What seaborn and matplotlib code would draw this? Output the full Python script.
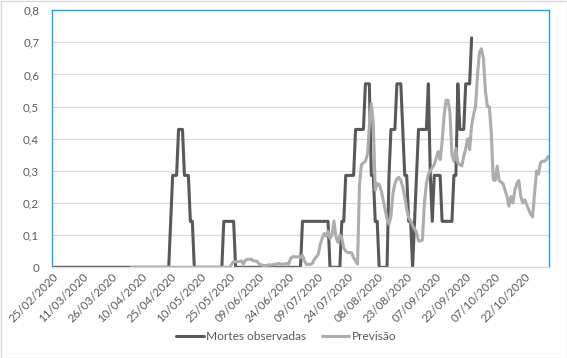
import matplotlib
matplotlib.use('Agg')
import matplotlib.pyplot as plt
import matplotlib.dates as mdates
import matplotlib.transforms as mtransforms
from matplotlib.patches import Rectangle
import pandas as pd
import seaborn as sns

# ---------------- data ----------------
series_names = ['Mortes observadas', 'Previsão']
obs_start = '2020-02-25'
prev_start = '2020-04-05'

# daily values (7-day average of deaths), from 25/02/2020
observed = [
    0, 0, 0, 0, 0, 0, 0, 0, 0, 0, 0, 0, 0, 0, 0, 0, 0, 0, 0, 0,
    0, 0, 0, 0, 0, 0, 0, 0, 0, 0, 0, 0, 0, 0, 0, 0, 0, 0, 0, 0,
    0, 0, 0, 0, 0, 0, 0, 0, 0, 0, 0, 0, 0, 0, 0, 0, 0, 0, 0, 0,
    0.143, 0.286, 0.286, 0.286, 0.429, 0.429, 0.429, 0.286, 0.286, 0.286,
    0.143, 0.143,
    0, 0, 0, 0, 0, 0, 0, 0, 0, 0, 0, 0, 0, 0, 0,
    0.143, 0.143, 0.143, 0.143, 0.143, 0.143,
    0, 0, 0, 0, 0, 0, 0, 0, 0, 0, 0, 0, 0, 0, 0, 0, 0,
    0, 0, 0, 0, 0, 0, 0, 0, 0, 0, 0, 0, 0, 0, 0, 0, 0,
    0.143, 0.143, 0.143, 0.143, 0.143, 0.143, 0.143, 0.143, 0.143, 0.143,
    0.143, 0.143, 0.143, 0.143,
    0, 0, 0, 0, 0, 0,
    0.143, 0.143, 0.286, 0.286, 0.286, 0.286, 0.286,
    0.429, 0.429, 0.429, 0.429, 0.429, 0.571, 0.571, 0.571,
    0.286, 0.286, 0.143, 0.143,
    0, 0, 0, 0, 0,
    0.286, 0.429, 0.429, 0.429, 0.571, 0.571, 0.571, 0.429,
    0.286, 0.286, 0.143, 0.143, 0, 0.143, 0.286,
    0.429, 0.429, 0.429, 0.429, 0.429, 0.571, 0.286, 0.143,
    0.286, 0.286, 0.286, 0.286,
    0.143, 0.143, 0.143, 0.143, 0.143, 0.143,
    0.286, 0.286, 0.571, 0.429, 0.429, 0.429, 0.571, 0.571, 0.571, 0.714,
]

# daily forecast values, from 05/04/2020
forecast = [
    0, 0, 0, 0, 0, 0, 0, 0, 0, 0, 0, 0, 0, 0, 0, 0, 0,
    0, 0, 0, 0, 0, 0, 0, 0, 0, 0, 0, 0, 0, 0, 0, 0, 0,
    0, 0, 0, 0, 0, 0, 0, 0, 0, 0, 0, 0, 0, 0, 0, 0, 0,
    0.01, 0.017, 0.017, 0.017, 0.018, 0.02, 0.01, 0.022, 0.025, 0.025,
    0.025, 0.02, 0.02, 0.018, 0.01, 0.008, 0.006, 0.005, 0.006, 0.008,
    0.007, 0.008, 0.01, 0.01, 0.012, 0.01, 0.01, 0.01, 0.012, 0.01,
    0.028, 0.033, 0.033, 0.032, 0.033, 0.03, 0.038, 0.02, 0.009, 0.009,
    0.009, 0.012, 0.025, 0.032, 0.04, 0.07, 0.09, 0.105, 0.097, 0.113,
    0.09, 0.1, 0.144, 0.095, 0.078, 0.1, 0.09, 0.06, 0.05, 0.046,
    0.046, 0.045, 0.03, 0.02, 0.01, 0.26, 0.32, 0.325, 0.33, 0.35,
    0.44, 0.51, 0.45, 0.24, 0.26, 0.258, 0.24, 0.21, 0.18, 0.15,
    0.134, 0.16, 0.23, 0.26, 0.275, 0.28, 0.27, 0.25, 0.22, 0.18,
    0.155, 0.145, 0.13, 0.12, 0.108, 0.082, 0.082, 0.085, 0.2, 0.26,
    0.29, 0.3, 0.31, 0.32, 0.34, 0.36, 0.335, 0.39, 0.47, 0.52,
    0.52, 0.48, 0.35, 0.33, 0.37, 0.325, 0.32, 0.315, 0.345, 0.37,
    0.4, 0.366, 0.44, 0.475, 0.5, 0.6, 0.67, 0.68, 0.65, 0.55,
    0.5, 0.5, 0.42, 0.273, 0.27, 0.315, 0.27, 0.265, 0.26, 0.24,
    0.22, 0.19, 0.22, 0.2, 0.24, 0.26, 0.27, 0.22, 0.2, 0.21,
    0.195, 0.18, 0.165, 0.157, 0.23, 0.3, 0.29, 0.325, 0.33, 0.33,
    0.335, 0.345,
]

tick_labels = ['25/02/2020', '11/03/2020', '26/03/2020', '10/04/2020',
               '25/04/2020', '10/05/2020', '25/05/2020', '09/06/2020',
               '24/06/2020', '09/07/2020', '24/07/2020', '08/08/2020',
               '23/08/2020', '07/09/2020', '22/09/2020', '07/10/2020',
               '22/10/2020']
y_ticks = [0, 0.1, 0.2, 0.3, 0.4, 0.5, 0.6, 0.7, 0.8]
y_labels = ['0', '0,1', '0,2', '0,3', '0,4', '0,5', '0,6', '0,7', '0,8']

# ---------------- style ----------------
sns.set_theme(style='white')
plt.rcParams['font.family'] = ['Lato', 'DejaVu Sans']
TXT = '#595959'
colors = ['#595959', '#ADADAD']

df_obs = pd.DataFrame({'date': pd.date_range(obs_start, periods=len(observed), freq='D'),
                       'value': observed, 'serie': series_names[0]})
df_prev = pd.DataFrame({'date': pd.date_range(prev_start, periods=len(forecast), freq='D'),
                        'value': forecast, 'serie': series_names[1]})
df = pd.concat([df_obs, df_prev], ignore_index=True)

W, H = 567, 358
fig = plt.figure(figsize=(W / 100, H / 100), dpi=100)
left, right, top, bottom = 51.7, 549.3, 10.2, 267.3
ax = fig.add_axes([left / W, 1 - bottom / H, (right - left) / W, (bottom - top) / H])

sns.lineplot(data=df, x='date', y='value', hue='serie', hue_order=series_names,
             palette=colors, linewidth=2.2, estimator=None, ax=ax)
for ln in ax.lines:
    ln.set_solid_joinstyle('round')
    ln.set_solid_capstyle('round')

xmin = df['date'].min() - pd.Timedelta(hours=12)
xmax = df['date'].max() + pd.Timedelta(hours=12)
ax.set_xlim(xmin, xmax)
ax.set_ylim(0, 0.8)

ax.set_xticks(pd.to_datetime(tick_labels, format='%d/%m/%Y'))
ax.set_xticklabels(tick_labels, rotation=45, ha='right', rotation_mode='anchor',
                   fontsize=8.3, color=TXT)
offset = mtransforms.ScaledTranslation(4 / 100, 0, fig.dpi_scale_trans)
for lbl in ax.get_xticklabels():
    lbl.set_transform(lbl.get_transform() + offset)

ax.set_yticks(y_ticks)
ax.set_yticklabels(y_labels, fontsize=8.3, color=TXT)
ax.tick_params(axis='both', length=0)
ax.tick_params(axis='x', pad=3)
ax.tick_params(axis='y', pad=9)
ax.set_xlabel('')
ax.set_ylabel('')

ax.yaxis.grid(True, color='#D9D9D9', linewidth=0.8)
ax.xaxis.grid(False)
ax.set_axisbelow(True)

for s in ['top', 'left', 'right']:
    ax.spines[s].set_color('#1CA3EC')
    ax.spines[s].set_linewidth(1.0)
ax.spines['bottom'].set_color('#D9D9D9')
ax.spines['bottom'].set_linewidth(0.9)

handles, labels = ax.get_legend_handles_labels()
ax.legend(handles, labels, loc='center', bbox_to_anchor=(0.505, 1 - 337 / H),
          bbox_transform=fig.transFigure, ncol=2, frameon=False,
          fontsize=8.6, labelcolor=TXT, handlelength=2.3, handletextpad=0.2,
          columnspacing=1.3)

fig.patches.append(Rectangle((0.5 / W, 0.5 / H), 1 - 1 / W, 1 - 1 / H,
                             transform=fig.transFigure, fill=False,
                             edgecolor='#D9D9D9', linewidth=1.0))

fig.savefig('out.png', dpi=100)
